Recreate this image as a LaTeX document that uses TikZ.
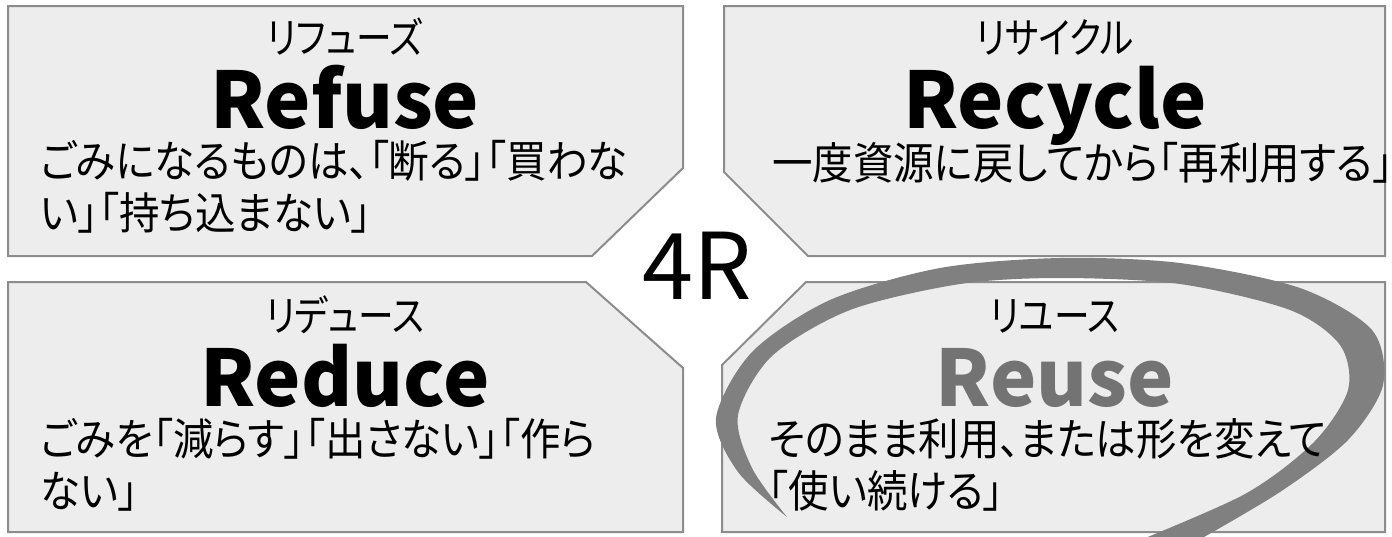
\documentclass[tikz,border=0pt]{standalone}
\usepackage{fontspec}
\setmainfont{Noto Sans CJK JP}[RawFeature={+palt}]
\newfontfamily\kanafont{Noto Sans CJK JP}[RawFeature={+palt}, FakeStretch=0.85]
\newfontfamily\bodyfont{Noto Sans CJK JP}[RawFeature={+palt}, FakeStretch=0.92]
\tikzset{
  quad/.style={draw=black!45, line width=1pt, fill=black!7},
  kana/.style={font=\kanafont\fontsize{21}{24}\selectfont, anchor=base, inner sep=0pt},
  head/.style={font=\bfseries\fontsize{39}{46}\selectfont, anchor=base, inner sep=0pt},
  body/.style={font=\bodyfont\fontsize{22}{26}\selectfont, align=left, anchor=north west, inner sep=0pt},
  swoosh/.style={fill=black!50},
}
\begin{document}
\begin{tikzpicture}[x=0.5pt,y=-0.5pt]
  \useasboundingbox[fill=white] (0,0) rectangle (1392,536);

  % the four boxes, cut at the corner next to 4R
  \draw[quad] (8,6) -- (683,6) -- (683,168) -- (592,256) -- (8,256) -- cycle;
  \draw[quad] (724,6) -- (1385,6) -- (1385,256) -- (808,256) -- (724,172) -- cycle;
  \draw[quad] (8,282) -- (586,282) -- (683,368) -- (683,532) -- (8,532) -- cycle;
  \draw[quad] (806,282) -- (1385,282) -- (1385,532) -- (722,532) -- (722,365) -- cycle;

  % ring round Reuse
  \begin{scope}
    \clip (0,0) rectangle (1392,536);
    \fill[swoosh] plot[smooth] coordinates {(1190,545) (1280,492) (1348,440) (1383,385)
        (1372,330) (1300,288) (1180,263) (1060,258) (940,268) (830,300) (752,352)
        (716,418) (738,472) (787,517)}
      -- plot[smooth] coordinates {(787,517) (752,468) (738,415) (772,356) (850,310)
        (960,284) (1060,278) (1180,284) (1290,310) (1340,345) (1348,390) (1314,442)
        (1245,494) (1128,545)}
      -- cycle;
  \end{scope}

  % Refuse
  \node[kana] (refuse-kana) at (345,53) {リフューズ};
  \node[head] (refuse) at (345,128) {Refuse};
  \node[body] (refuse-txt) at (40,140) {ごみになるものは、「断る」「買わな\\い」「持ち込まない」};

  % Recycle
  \node[kana] (recycle-kana) at (1055,53) {リサイクル};
  \node[head] (recycle) at (1055,128) {Recycle};
  \node[body] (recycle-txt) at (772,142) {一度資源に戻してから「再利用する」};

  % Reduce
  \node[kana] (reduce-kana) at (345,331) {リデュース};
  \node[head] (reduce) at (345,406) {Reduce};
  \node[body] (reduce-txt) at (40,418) {ごみを「減らす」「出さない」「作ら\\ない」};

  % Reuse
  \node[kana] (reuse-kana) at (1055,331) {リユース};
  \node[head, text=black!55] (reuse) at (1055,406) {Reuse};
  \node[body] (reuse-txt) at (768,418) {そのまま利用、または形を変えて\\「使い続ける」};

  \node[font=\fontsize{46}{50}\selectfont, inner sep=0pt] (four-r) at (697,266) {4R};
\end{tikzpicture}
\end{document}
